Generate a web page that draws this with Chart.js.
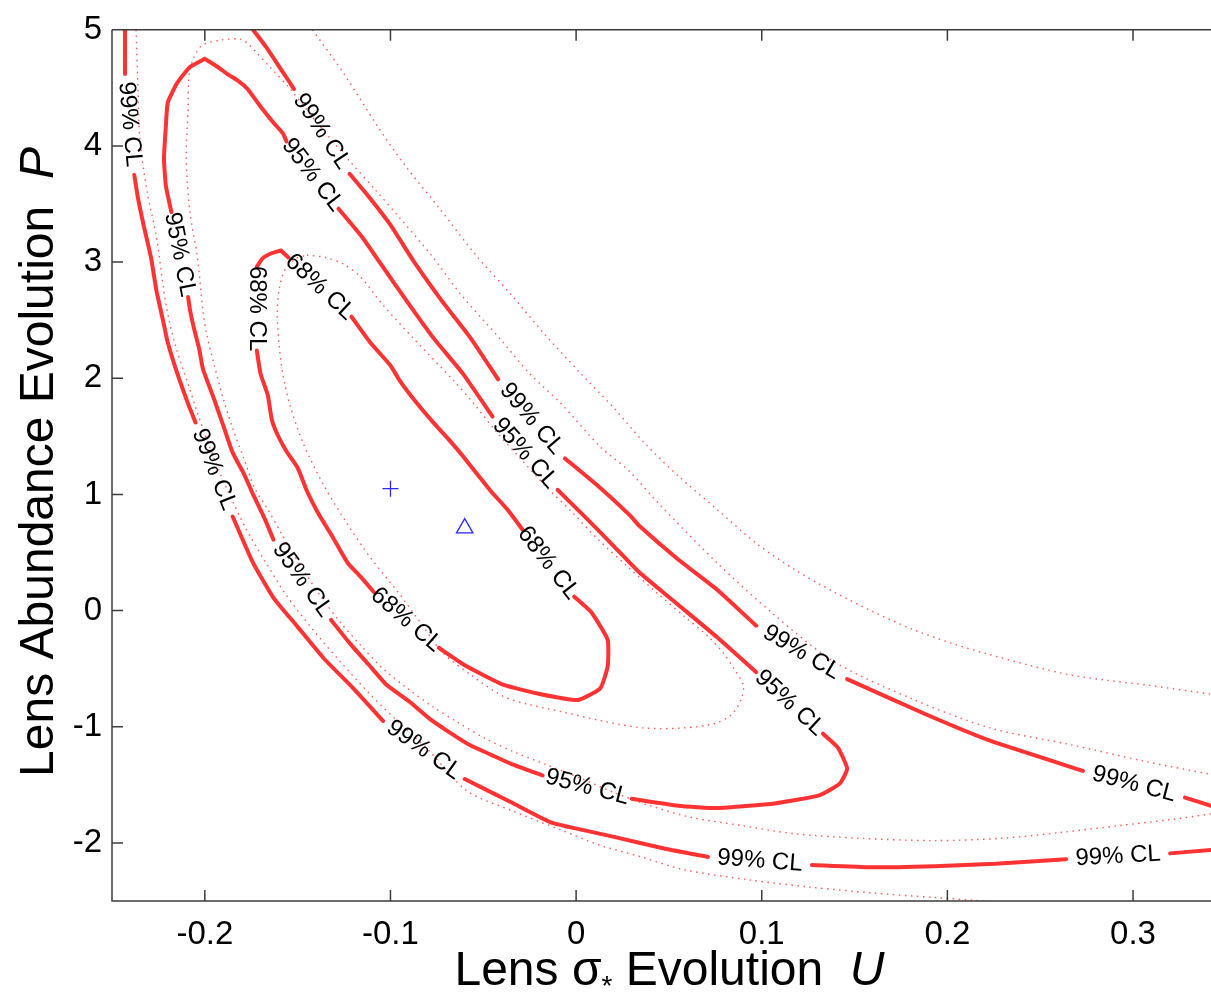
<!DOCTYPE html>
<html>
<head>
<meta charset="utf-8">
<title>Contours U / P</title>
<script src="https://cdn.jsdelivr.net/npm/chart.js"></script>
<style>
    html, body { margin: 0; padding: 0; background: #fff; overflow: hidden; }
    #wrap { position: relative; width: 1211px; height: 992px; }
    canvas { display: block; }
</style>
</head>
<body>
<div id="wrap"><canvas id="contourChart"></canvas></div>
<script>
// Valeurs : U en abscisse, P en ordonnée.
// null = coupure de la courbe, à l'endroit où s'écrit l'étiquette "xx% CL"
const xTicks = [-0.2, -0.1, 0, 0.1, 0.2, 0.3];
const yTicks = [-2, -1, 0, 1, 2, 3, 4, 5];
const levelNames = ['68% CL', '95% CL', '99% CL'];

// contour 68% (trait plein)
const u68 = [
    -0.159, -0.165, -0.169, -0.172, null,
    -0.172, -0.170, -0.166, -0.164, -0.161, -0.156, -0.150, -0.145, -0.139, -0.131, -0.123, -0.116, -0.109, null,
    -0.074, -0.059, -0.039, -0.019, 0.001, 0.013, 0.017, 0.017, 0.008, -0.001, null,
    -0.029, -0.037, -0.046, -0.053, -0.061, -0.069, -0.077, -0.087, -0.095, -0.100, -0.111, -0.121, null,
    -0.155, -0.159
];
const p68 = [
    3.10, 3.07, 3.03, 2.96, null,
    2.24, 2.04, 1.85, 1.65, 1.52, 1.37, 1.23, 1.03, 0.84, 0.63, 0.41, 0.29, 0.16, null,
    -0.32, -0.48, -0.64, -0.72, -0.77, -0.67, -0.48, -0.25, -0.01, 0.12, null,
    0.70, 0.87, 1.03, 1.17, 1.33, 1.48, 1.62, 1.81, 1.98, 2.11, 2.31, 2.53, null,
    3.04, 3.10
];

// contour 95% (trait plein)
const u95 = [
    -0.200, -0.208, -0.215, -0.220, -0.221, -0.222, -0.221, -0.218, null,
    -0.209, -0.208, -0.206, -0.203, -0.201, -0.195, -0.190, -0.185, -0.179, -0.174, -0.168, -0.163, null,
    -0.132, -0.122, -0.112, -0.102, -0.090, -0.079, -0.068, -0.057, -0.046, -0.035, -0.018, null,
    0.030, 0.055, 0.076, 0.107, 0.131, 0.142, 0.146, 0.141, 0.133, null,
    0.097, 0.076, 0.055, 0.034, 0.020, 0.004, -0.010, null,
    -0.045, -0.061, -0.077, -0.091, -0.105, -0.115, -0.128, null,
    -0.156, -0.158, -0.163, -0.170, -0.177, -0.182, -0.188, -0.193, -0.200
];
const p95 = [
    4.75, 4.68, 4.54, 4.37, 4.17, 3.89, 3.66, 3.43, null,
    2.70, 2.59, 2.44, 2.25, 2.08, 1.82, 1.59, 1.36, 1.18, 1.00, 0.80, 0.61, null,
    -0.08, -0.28, -0.46, -0.64, -0.78, -0.93, -1.05, -1.16, -1.24, -1.32, -1.42, null,
    -1.62, -1.68, -1.70, -1.66, -1.59, -1.49, -1.36, -1.18, -1.06, null,
    -0.53, -0.23, 0.05, 0.33, 0.56, 0.82, 1.04, null,
    1.67, 2.04, 2.35, 2.66, 2.98, 3.21, 3.46, null,
    4.04, 4.11, 4.20, 4.34, 4.49, 4.56, 4.62, 4.68, 4.75
];

// contour 99% (trait plein) : branche gauche + bas
const u99a = [
    -0.243, -0.243, null,
    -0.238, -0.236, -0.233, -0.229, -0.226, -0.222, -0.220, -0.215, -0.209, -0.205, null,
    -0.185, -0.174, -0.163, -0.150, -0.136, -0.120, -0.104, null,
    -0.060, -0.035, -0.014, 0.004, 0.021, 0.048, 0.071, null,
    0.127, 0.159, 0.193, 0.226, 0.264, null,
    0.320, 0.342
];
const p99a = [
    5.00, 4.62, null,
    3.75, 3.55, 3.32, 3.04, 2.75, 2.46, 2.31, 2.05, 1.78, 1.62, null,
    0.81, 0.41, 0.11, -0.14, -0.41, -0.67, -0.95, null,
    -1.45, -1.65, -1.82, -1.89, -1.95, -2.05, -2.12, null,
    -2.19, -2.21, -2.20, -2.18, -2.14, null,
    -2.09, -2.06
];
// contour 99% (trait plein) : branche haute
const u99b = [
    -0.174, -0.166, -0.159, -0.154, -0.152, null,
    -0.122, -0.111, -0.100, -0.088, -0.072, -0.057, -0.042, null,
    -0.006, 0.012, 0.029, 0.034, 0.055, 0.076, 0.097, null,
    0.146, 0.188, 0.223, 0.273, null,
    0.328, 0.342
];
const p99b = [
    5.00, 4.83, 4.66, 4.54, 4.49, null,
    3.76, 3.55, 3.32, 3.02, 2.66, 2.35, 1.99, null,
    1.31, 1.07, 0.82, 0.73, 0.44, 0.18, -0.13, null,
    -0.59, -0.89, -1.12, -1.38, null,
    -1.61, -1.68
];

// contours pointillés
const u68dot = [-0.145, -0.135, -0.125, -0.116, -0.104, -0.088, -0.066, -0.055, -0.043, -0.030, -0.017, -0.003, 0.012, 0.027, 0.043, 0.059, 0.071, 0.079, 0.085, 0.090, 0.089, 0.084, 0.075, 0.058, 0.036, 0.014, -0.008, -0.025, -0.039, -0.057, -0.072, -0.084, -0.096, -0.111, -0.123, -0.136, -0.147, -0.154, -0.158, -0.160, -0.161, -0.160, -0.157, -0.151, -0.145];
const p68dot = [3.06, 3.04, 2.98, 2.87, 2.63, 2.35, 1.98, 1.78, 1.54, 1.31, 1.08, 0.86, 0.61, 0.39, 0.16, -0.06, -0.22, -0.36, -0.50, -0.64, -0.76, -0.89, -0.97, -1.01, -1.01, -0.95, -0.87, -0.81, -0.74, -0.55, -0.36, -0.10, 0.16, 0.46, 0.74, 1.08, 1.44, 1.76, 2.04, 2.29, 2.55, 2.76, 2.93, 3.03, 3.06];

const u95dot = [0.342, 0.320, 0.293, 0.261, 0.229, 0.193, 0.153, 0.117, 0.089, 0.062, 0.040, 0.021, 0.002, -0.017, -0.033, -0.049, -0.064, -0.077, -0.090, -0.104, -0.116, -0.127, -0.137, -0.145, -0.152, -0.159, -0.166, -0.173, -0.179, -0.185, -0.190, -0.195, -0.199, -0.201, -0.204, -0.208, -0.210, -0.209, -0.208, -0.202, -0.192, -0.181, -0.176, -0.172, -0.165, -0.154, -0.138, -0.122, -0.108, -0.095, -0.078, -0.062, -0.041, -0.025, -0.008, 0.013, 0.028, 0.044, 0.076, 0.107, 0.139, 0.181, 0.223, 0.265, 0.307, 0.342];
const p95dot = [-1.75, -1.80, -1.85, -1.91, -1.96, -1.98, -1.96, -1.92, -1.85, -1.78, -1.68, -1.57, -1.44, -1.32, -1.22, -1.10, -0.96, -0.83, -0.68, -0.50, -0.30, -0.10, 0.11, 0.30, 0.48, 0.67, 0.87, 1.05, 1.31, 1.57, 1.82, 2.12, 2.38, 2.58, 3.04, 3.43, 3.89, 4.32, 4.66, 4.86, 4.91, 4.92, 4.87, 4.80, 4.68, 4.49, 4.17, 3.87, 3.62, 3.38, 3.06, 2.72, 2.34, 2.04, 1.78, 1.41, 1.21, 0.93, 0.41, -0.04, -0.44, -0.76, -1.01, -1.15, -1.30, -1.41];

const u99dotLow = [-0.237, -0.236, -0.235, -0.231, -0.226, -0.221, -0.216, -0.209, -0.202, -0.195, -0.187, -0.178, -0.167, -0.156, -0.142, -0.127, -0.111, -0.095, -0.079, -0.059, -0.035, -0.008, 0.013, 0.035, 0.058, 0.094, 0.126, 0.159, 0.193, 0.229];
const p99dotLow = [5.00, 4.49, 4.06, 3.60, 3.21, 2.64, 2.29, 1.95, 1.61, 1.31, 1.01, 0.71, 0.41, 0.13, -0.16, -0.44, -0.72, -0.97, -1.21, -1.55, -1.72, -1.89, -2.02, -2.12, -2.23, -2.32, -2.38, -2.43, -2.47, -2.51];
const u99dotUp = [-0.142, -0.125, -0.107, -0.092, -0.073, -0.054, -0.035, -0.017, 0.002, 0.020, 0.037, 0.055, 0.076, 0.097, 0.118, 0.139, 0.160, 0.181, 0.202, 0.223, 0.244, 0.265, 0.286, 0.307, 0.342];
const p99dotUp = [5.00, 4.62, 4.17, 3.83, 3.45, 3.06, 2.72, 2.38, 2.05, 1.75, 1.44, 1.16, 0.87, 0.58, 0.35, 0.16, -0.01, -0.16, -0.28, -0.38, -0.47, -0.55, -0.60, -0.64, -0.72];

// points marqués en bleu
const crossPoint = [-0.100, 1.05];
const trianglePoint = [-0.060, 0.71];

const RED = 'rgb(255, 51, 51)';
const RED_DOT = 'rgba(255, 70, 70, 0.9)';
const BLUE = 'rgb(40, 40, 255)';
const AXIS_COLOR = '#3c3c3c';
const FONT = '"Liberation Sans", Arial, Helvetica, sans-serif';

function buildContour(us, ps, text, dotted) {
    return {
        label: text || 'pointillé',
        data: us.map((u, i) => ({ x: u, y: u === null ? null : ps[i] })),
        showLine: true,
        borderColor: dotted ? RED_DOT : RED,
        borderWidth: dotted ? 1.4 : 4,
        borderDash: dotted ? [1.5, 4.5] : [],
        borderCapStyle: dotted ? 'butt' : 'round',
        borderJoinStyle: 'round',
        pointRadius: 0,
        pointHoverRadius: 0,
        tension: dotted ? 0.3 : 0.15,
        fill: false,
        spanGaps: false,
        clLabel: dotted ? null : text
    };
}

// étiquettes "xx% CL" posées dans chaque coupure, orientées le long de la courbe
function drawContourLabels(chart) {
    const ctx = chart.ctx;
    const xs = chart.scales.x;
    const ys = chart.scales.y;
    ctx.save();
    ctx.font = '24px ' + FONT;
    ctx.fillStyle = '#000';
    ctx.textAlign = 'center';
    ctx.textBaseline = 'middle';
    chart.data.datasets.forEach(function(ds) {
        if (!ds.clLabel) return;
        const pts = ds.data;
        for (let i = 1; i < pts.length - 1; i++) {
            if (pts[i].y !== null) continue;
            const a = pts[i - 1];
            const b = pts[i + 1];
            const ax = xs.getPixelForValue(a.x), ay = ys.getPixelForValue(a.y);
            const bx = xs.getPixelForValue(b.x), by = ys.getPixelForValue(b.y);
            let ang = Math.atan2(by - ay, bx - ax);
            if (ang > Math.PI * 95 / 180) ang -= Math.PI;
            if (ang < -Math.PI * 85 / 180) ang += Math.PI;
            ctx.save();
            ctx.translate((ax + bx) / 2, (ay + by) / 2);
            ctx.rotate(ang);
            ctx.fillText(ds.clLabel, 0, 0);
            ctx.restore();
        }
    });
    ctx.restore();
}

// texte en plusieurs morceaux (indice, italique)
function drawPieces(ctx, pieces, startX, baseY) {
    let x = startX;
    pieces.forEach(function(pc) {
        ctx.font = pc.font;
        ctx.fillText(pc.text, x, baseY + (pc.dy || 0));
        x += ctx.measureText(pc.text).width;
    });
}

function piecesWidth(ctx, pieces) {
    let w = 0;
    pieces.forEach(function(pc) {
        ctx.font = pc.font;
        w += ctx.measureText(pc.text).width;
    });
    return w;
}

const framePlugin = {
    id: 'cadre',
    afterDatasetsDraw(chart) {
        drawContourLabels(chart);
    },
    afterDraw(chart) {
        const ctx = chart.ctx;
        const area = chart.chartArea;
        const xs = chart.scales.x;
        const ys = chart.scales.y;

        ctx.save();
        ctx.strokeStyle = AXIS_COLOR;
        ctx.lineWidth = 1.5;
        ctx.beginPath();
        ctx.moveTo(area.left, area.top);
        ctx.lineTo(area.right, area.top);
        ctx.moveTo(area.left, area.top);
        ctx.lineTo(area.left, area.bottom);
        ctx.lineTo(area.right, area.bottom);
        xTicks.forEach(function(v) {
            const px = xs.getPixelForValue(v);
            ctx.moveTo(px, area.bottom);
            ctx.lineTo(px, area.bottom - 11);
            ctx.moveTo(px, area.top);
            ctx.lineTo(px, area.top + 11);
        });
        yTicks.forEach(function(v) {
            const py = ys.getPixelForValue(v);
            ctx.moveTo(area.left, py);
            ctx.lineTo(area.left + 11, py);
        });
        ctx.stroke();

        // titres des axes
        ctx.fillStyle = '#000';
        ctx.textAlign = 'left';
        ctx.textBaseline = 'alphabetic';
        const big = '48px ' + FONT;
        const xTitle = [
            { text: 'Lens ', font: big },
            { text: 'σ', font: big },
            { text: '*', font: '28px ' + FONT, dy: 10 },
            { text: ' Evolution  ', font: big },
            { text: 'U', font: 'italic ' + big }
        ];
        const xw = piecesWidth(ctx, xTitle);
        const xc = (area.left + area.right) / 2 + 8;
        drawPieces(ctx, xTitle, xc - xw / 2, 985);

        const yTitle = [
            { text: 'Lens Abundance Evolution  ', font: big },
            { text: 'P', font: 'italic ' + big }
        ];
        const yw = piecesWidth(ctx, yTitle);
        ctx.translate(53, 462);
        ctx.rotate(-Math.PI / 2);
        drawPieces(ctx, yTitle, -yw / 2, 0);
        ctx.restore();
    }
};

function createContourChart() {
    const canvas = document.getElementById('contourChart');
    if (!canvas) {
        console.error('Canvas contourChart introuvable');
        return;
    }
    const ctx = canvas.getContext('2d');

    const datasets = [
        {
            label: 'croix',
            data: [{ x: crossPoint[0], y: crossPoint[1] }],
            pointStyle: 'cross',
            pointRadius: 8,
            pointHoverRadius: 8,
            borderColor: BLUE,
            backgroundColor: BLUE,
            borderWidth: 1.3,
            showLine: false
        },
        {
            label: 'triangle',
            data: [{ x: trianglePoint[0], y: trianglePoint[1] }],
            pointStyle: 'triangle',
            pointRadius: 9.5,
            pointHoverRadius: 9.5,
            borderColor: BLUE,
            backgroundColor: 'rgba(0,0,0,0)',
            borderWidth: 1.3,
            showLine: false
        },
        buildContour(u68, p68, levelNames[0], false),
        buildContour(u95, p95, levelNames[1], false),
        buildContour(u99a, p99a, levelNames[2], false),
        buildContour(u99b, p99b, levelNames[2], false),
        buildContour(u68dot, p68dot, null, true),
        buildContour(u95dot, p95dot, null, true),
        buildContour(u99dotLow, p99dotLow, null, true),
        buildContour(u99dotUp, p99dotUp, null, true)
    ];

    new Chart(ctx, {
        type: 'scatter',
        data: { datasets: datasets },
        options: {
            responsive: true,
            maintainAspectRatio: false,
            animation: false,
            events: [],
            layout: { autoPadding: false, padding: { top: 23, right: 0, bottom: 0, left: 0 } },
            plugins: {
                legend: { display: false },
                tooltip: { enabled: false },
                title: { display: false }
            },
            scales: {
                x: {
                    type: 'linear',
                    min: -0.25,
                    max: 0.342,
                    grid: { display: false, drawTicks: false },
                    border: { display: false },
                    afterBuildTicks: function(scale) {
                        scale.ticks = xTicks.map(v => ({ value: v }));
                    },
                    afterFit: function(scale) { scale.height = 91; },
                    ticks: {
                        padding: 14,
                        color: '#000',
                        maxRotation: 0,
                        font: { size: 33, family: FONT },
                        callback: v => String(v)
                    }
                },
                y: {
                    type: 'linear',
                    min: -2.5,
                    max: 5,
                    grid: { display: false, drawTicks: false },
                    border: { display: false },
                    afterBuildTicks: function(scale) {
                        scale.ticks = yTicks.map(v => ({ value: v }));
                    },
                    afterFit: function(scale) { scale.width = 112; },
                    ticks: {
                        padding: 10,
                        color: '#000',
                        font: { size: 33, family: FONT },
                        callback: v => String(v)
                    }
                }
            }
        },
        plugins: [framePlugin]
    });
    console.log('Graphique des contours créé');
}

createContourChart();
</script>
</body>
</html>
